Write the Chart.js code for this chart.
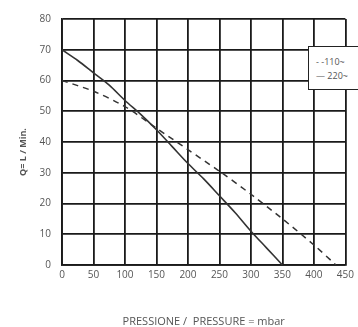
<!DOCTYPE html>
<html>
<head>
<meta charset="utf-8">
<script src="https://cdn.jsdelivr.net/npm/chart.js@4"></script>
<style>
  html, body { margin: 0; padding: 0; background: #fff; overflow: hidden; }
  #wrap { position: relative; width: 358px; height: 327px; overflow: hidden; }
  #legend {
    position: absolute; left: 308px; top: 46px; width: 80px; height: 44px;
    border: 1.5px solid #222; border-right: none; background: #fff;
    font: 9px "Open Sans", sans-serif; color: #555; line-height: 14px;
    padding: 8px 0 0 7px; box-sizing: border-box; white-space: nowrap;
  }
</style>
</head>
<body>
<div id="wrap">
  <canvas id="chart" width="358" height="327"></canvas>
  <div id="legend"><div>- -110~</div><div>— 220~</div></div>
</div>
<script>
// pressione (mbar) e portata (L/min)
const pressure220 = [0, 25, 50, 75, 100, 125, 150, 175, 200, 225, 250, 275, 300, 325, 350];
const flow220     = [70, 66.5, 62.5, 58.5, 53.5, 49, 44, 38.5, 33, 28, 22.5, 17, 11, 5.5, 0];

const pressure110 = [0, 50, 100, 150, 200, 250, 300, 350, 400, 435];
const flow110     = [60, 56.5, 51.5, 44.5, 37.5, 30.5, 23, 15, 6.5, 0];

const xTicks = [0, 50, 100, 150, 200, 250, 300, 350, 400, 450];
const yTicks = [0, 10, 20, 30, 40, 50, 60, 70, 80];

const toPoints = (xs, ys) => xs.map((x, i) => ({x: x, y: ys[i]}));

// titolo asse Y ruotato
const yTitle = {
  id: 'yTitle',
  afterDraw(chart) {
    const ctx = chart.ctx;
    ctx.save();
    ctx.translate(23, 152);
    ctx.rotate(-Math.PI / 2);
    ctx.font = 'bold 9px "Open Sans", sans-serif';
    ctx.fillStyle = '#555';
    ctx.textAlign = 'center';
    ctx.textBaseline = 'middle';
    ctx.fillText('Q= L / Min.', 0, 0);
    ctx.restore();
  }
};

new Chart(document.getElementById('chart'), {
  type: 'line',
  data: {
    datasets: [
      {
        label: '110~',
        data: toPoints(pressure110, flow110),
        borderColor: '#333',
        borderWidth: 1.5,
        borderDash: [6, 5],
        pointRadius: 0,
        tension: 0.3,
        fill: false
      },
      {
        label: '220~',
        data: toPoints(pressure220, flow220),
        borderColor: '#333',
        borderWidth: 1.6,
        pointRadius: 0,
        tension: 0.3,
        fill: false
      }
    ]
  },
  options: {
    responsive: false,
    animation: false,
    layout: { padding: { top: 19, right: 10, left: 0, bottom: 0 } },
    plugins: { legend: { display: false }, tooltip: { enabled: false } },
    scales: {
      x: {
        type: 'linear',
        min: 0, max: 450,
        afterBuildTicks: s => { s.ticks = xTicks.map(v => ({value: v})); },
        afterFit: s => { s.height = 62; },
        grid: { color: '#1a1a1a', lineWidth: 1.8, drawTicks: false },
        border: { color: '#1a1a1a', width: 1.8 },
        ticks: { color: '#555', font: { family: 'Open Sans', size: 10 }, padding: 4, maxRotation: 0 },
        title: {
          display: true,
          text: 'PRESSIONE /  PRESSURE = mbar',
          color: '#555',
          font: { family: 'Open Sans', size: 11 },
          padding: { top: 0, bottom: -1 }
        }
      },
      y: {
        min: 0, max: 80,
        afterBuildTicks: s => { s.ticks = yTicks.map(v => ({value: v})); },
        afterFit: s => { s.width = 62; },
        grid: { color: '#1a1a1a', lineWidth: 1.8, drawTicks: false },
        border: { color: '#1a1a1a', width: 1.8 },
        ticks: { color: '#555', font: { family: 'Open Sans', size: 10 }, padding: 11 }
      }
    }
  },
  plugins: [yTitle]
});
</script>
</body>
</html>
